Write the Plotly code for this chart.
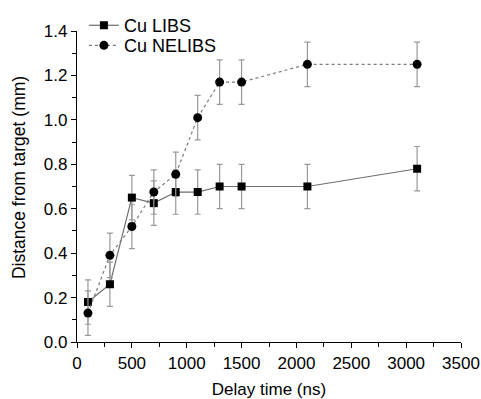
import plotly.graph_objects as go

delay_ns = [100, 300, 500, 700, 900, 1100, 1300, 1500, 2100, 3100]
libs_mm = [0.18, 0.26, 0.65, 0.625, 0.675, 0.675, 0.70, 0.70, 0.70, 0.78]
nelibs_mm = [0.13, 0.39, 0.52, 0.675, 0.755, 1.01, 1.17, 1.17, 1.25, 1.25]
libs_err = [0.1] * 10
nelibs_err = [0.1] * 10

FONT = "Arial, 'Liberation Sans', sans-serif"

fig = go.Figure()
fig.add_trace(go.Scatter(
    x=delay_ns, y=libs_mm, name="Cu LIBS", mode="lines+markers", legend="legend",
    showlegend=True,
    line=dict(color="#6e6e6e", width=1.2),
    marker=dict(symbol="square", size=8, color="black"),
    error_y=dict(type="data", array=libs_err, color="#999999", thickness=1.2, width=3),
))
fig.add_trace(go.Scatter(
    x=delay_ns, y=nelibs_mm, name="Cu NELIBS", mode="lines+markers", legend="legend2",
    showlegend=True,
    line=dict(color="#7a7a7a", width=1.2, dash="dot"),
    marker=dict(symbol="circle", size=9, color="black"),
    error_y=dict(type="data", array=nelibs_err, color="#999999", thickness=1.2, width=3),
))

axis_common = dict(
    showline=True, linecolor="black", linewidth=1.2, mirror=False,
    ticks="outside", ticklen=5, tickwidth=1.2, tickcolor="black",
    showgrid=False, zeroline=False, automargin=False,
    tickfont=dict(family=FONT, size=17, color="black"),
)
fig.update_xaxes(
    range=[0, 3500], tickvals=[0, 500, 1000, 1500, 2000, 2500, 3000, 3500],
    minor=dict(dtick=250, ticks="outside", ticklen=4, tickcolor="black", tickwidth=1.2),
    title=dict(text="Delay time (ns)", font=dict(family=FONT, size=17, color="black"), standoff=12),
    **axis_common,
)
fig.update_yaxes(
    range=[0, 1.4], tickvals=[0, 0.2, 0.4, 0.6, 0.8, 1.0, 1.2, 1.4], tickformat=".1f",
    minor=dict(dtick=0.1, ticks="outside", ticklen=4, tickcolor="black", tickwidth=1.2),
    **axis_common,
)
fig.add_annotation(
    text="Distance from target (mm)", textangle=-90, showarrow=False,
    xref="paper", yref="paper", x=-0.151, y=0.527, xanchor="center", yanchor="middle",
    font=dict(family=FONT, size=17.5, color="black"),
)
leg_style = dict(xanchor="left", yanchor="top",
                 font=dict(family=FONT, size=18, color="black"),
                 bgcolor="rgba(0,0,0,0)", itemwidth=30, visible=True)
fig.update_layout(
    width=481, height=399,
    showlegend=True,
    margin=dict(l=77, r=20, t=31, b=57, autoexpand=False),
    plot_bgcolor="white", paper_bgcolor="white",
    legend=dict(x=0.018, y=1.077, **leg_style),
    legend2=dict(x=0.018, y=1.0124, **leg_style),
)
fig.write_html("out.html")
